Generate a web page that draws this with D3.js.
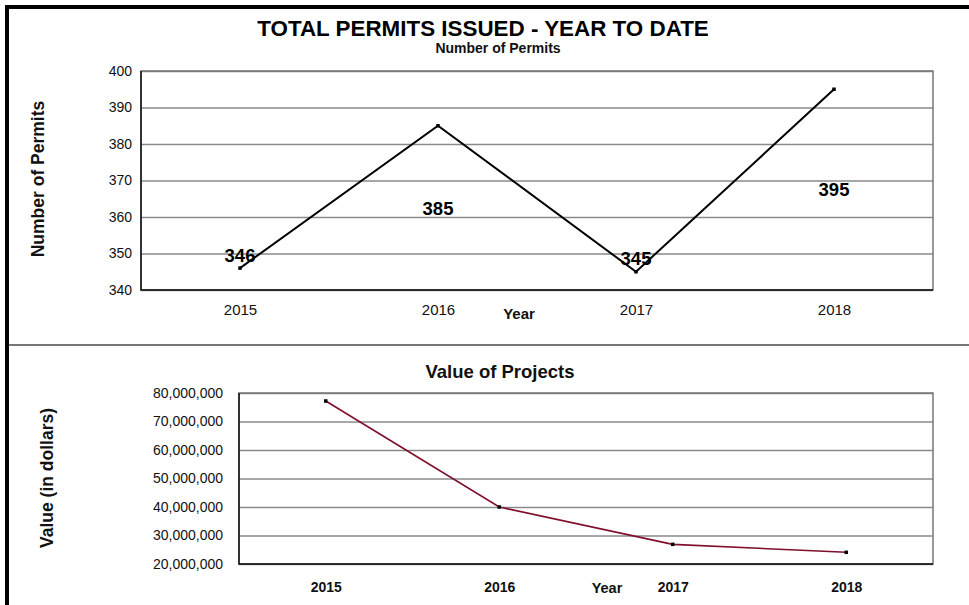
<!DOCTYPE html>
<html>
<head>
<meta charset="utf-8">
<script src="https://cdn.jsdelivr.net/npm/d3@7"></script>
<style>
  html, body { margin: 0; padding: 0; background: #fff; }
  svg { display: block; font-family: "Liberation Sans", Arial, sans-serif; }
</style>
</head>
<body>
<svg id="chart"></svg>
<script>
const width = 969;
const height = 605;

// chart data
const years = ["2015", "2016", "2017", "2018"];
const permits = [346, 385, 345, 395];
// where Excel dropped the data labels (in permit units)
const permitLabelAt = [347.7, 360.5, 346.8, 365.8];
const permitTicks = [340, 350, 360, 370, 380, 390, 400];
const projectValues = [77200000, 40000000, 26900000, 24100000];
const valueTicks = [20000000, 30000000, 40000000, 50000000, 60000000, 70000000, 80000000];

const svg = d3.select("#chart")
    .attr("width", width)
    .attr("height", height)
    .attr("viewBox", [0, 0, width, height]);

// outer frame: thick top and left edges, grey divider between the panels
svg.append("line")
    .attr("x1", 5).attr("x2", width).attr("y1", 7).attr("y2", 7)
    .attr("stroke", "#000").attr("stroke-width", 4);
svg.append("line")
    .attr("x1", 7).attr("x2", 7).attr("y1", 5).attr("y2", height)
    .attr("stroke", "#000").attr("stroke-width", 4);
svg.append("line")
    .attr("x1", 9).attr("x2", width).attr("y1", 345).attr("y2", 345)
    .attr("stroke", "#777").attr("stroke-width", 2);

// draws one Excel-like line panel
function panel(opts) {
    const { left, right, top, bottom } = opts;
    const x = d3.scalePoint().domain(years).range([left, right]).padding(0.5);
    const y = d3.scaleLinear().domain(opts.domain).range([bottom, top]);
    const g = svg.append("g");

    // gridlines
    g.append("g")
        .attr("transform", `translate(${left},0)`)
        .call(d3.axisLeft(y).tickValues(opts.ticks).tickSize(-(right - left)).tickFormat(""))
        .call(s => s.select(".domain").remove())
        .call(s => s.selectAll("line").attr("stroke", "#8a8a8a").attr("stroke-width", 1.5));

    // plot border
    g.append("rect")
        .attr("x", left).attr("y", top)
        .attr("width", right - left).attr("height", bottom - top)
        .attr("fill", "none").attr("stroke", "#777").attr("stroke-width", 1.5);
    g.append("path")
        .attr("d", `M${left},${top}V${bottom}H${right}`)
        .attr("fill", "none").attr("stroke", "#111").attr("stroke-width", 1.5);

    // y tick labels
    g.append("g")
        .attr("transform", `translate(${left},0)`)
        .call(d3.axisLeft(y).tickValues(opts.ticks).tickSize(0).tickPadding(opts.tickPad).tickFormat(opts.format))
        .call(s => s.select(".domain").remove())
        .call(s => s.selectAll("text")
            .attr("font-family", "Liberation Sans, Arial, sans-serif")
            .attr("font-size", 14).attr("fill", "#111"));

    // x tick labels
    g.append("g")
        .attr("transform", `translate(0,${bottom})`)
        .call(d3.axisBottom(x).tickSize(0).tickPadding(opts.xPad))
        .call(s => s.select(".domain").remove())
        .call(s => s.selectAll("text")
            .attr("font-family", "Liberation Sans, Arial, sans-serif")
            .attr("font-size", opts.xSize)
            .attr("font-weight", opts.xBold ? "bold" : "normal")
            .attr("fill", "#111"));

    // the series line and its markers
    const line = d3.line().x((d, i) => x(years[i])).y(d => y(d));
    g.append("path")
        .datum(opts.values)
        .attr("d", line)
        .attr("fill", "none")
        .attr("stroke", opts.color)
        .attr("stroke-width", opts.lineWidth)
        .attr("stroke-linejoin", "miter");
    g.selectAll(".marker")
        .data(opts.values)
        .join("rect")
        .attr("class", "marker")
        .attr("x", (d, i) => x(years[i]) - 1.75)
        .attr("y", d => y(d) - 1.75)
        .attr("width", 3.5).attr("height", 3.5)
        .attr("fill", "#000");

    return { x, y, g };
}

// top panel: number of permits
const permitPanel = panel({
    left: 141, right: 933, top: 71, bottom: 290,
    domain: [340, 400], ticks: permitTicks, format: d3.format("d"),
    tickPad: 9, xPad: 14, xSize: 15, xBold: false,
    values: permits, color: "#000", lineWidth: 2
});

permitPanel.g.selectAll(".dlabel")
    .data(permits)
    .join("text")
    .attr("class", "dlabel")
    .attr("x", (d, i) => permitPanel.x(years[i]))
    .attr("y", (d, i) => permitPanel.y(permitLabelAt[i]))
    .attr("text-anchor", "middle")
    .attr("font-size", 18.5).attr("font-weight", "bold").attr("fill", "#000")
    .text(d => d);

svg.append("text")
    .attr("x", 483).attr("y", 35.5)
    .attr("text-anchor", "middle")
    .attr("font-size", 22.4).attr("font-weight", "bold")
    .text("TOTAL PERMITS ISSUED - YEAR TO DATE");
svg.append("text")
    .attr("x", 498).attr("y", 52.5)
    .attr("text-anchor", "middle")
    .attr("font-size", 14).attr("font-weight", "bold").attr("fill", "#111")
    .text("Number of Permits");
svg.append("text")
    .attr("transform", "translate(44,179) rotate(-90)")
    .attr("text-anchor", "middle")
    .attr("font-size", 17.5).attr("font-weight", "bold").attr("fill", "#111")
    .text("Number of Permits");
svg.append("text")
    .attr("x", 519).attr("y", 319)
    .attr("text-anchor", "middle")
    .attr("font-size", 15).attr("font-weight", "bold").attr("fill", "#111")
    .text("Year");

// bottom panel: value of projects
panel({
    left: 239, right: 933, top: 393, bottom: 564,
    domain: [20000000, 80000000], ticks: valueTicks, format: d3.format(",d"),
    tickPad: 16, xPad: 18, xSize: 14, xBold: true,
    values: projectValues, color: "#7f0f2a", lineWidth: 1.6
});

svg.append("text")
    .attr("x", 500).attr("y", 378)
    .attr("text-anchor", "middle")
    .attr("font-size", 18.5).attr("font-weight", "bold").attr("fill", "#111")
    .text("Value of Projects");
svg.append("text")
    .attr("transform", "translate(53,478) rotate(-90)")
    .attr("text-anchor", "middle")
    .attr("font-size", 17.5).attr("font-weight", "bold").attr("fill", "#111")
    .text("Value (in dollars)");
svg.append("text")
    .attr("x", 607).attr("y", 593)
    .attr("text-anchor", "middle")
    .attr("font-size", 14.5).attr("font-weight", "bold").attr("fill", "#111")
    .text("Year");
</script>
</body>
</html>
